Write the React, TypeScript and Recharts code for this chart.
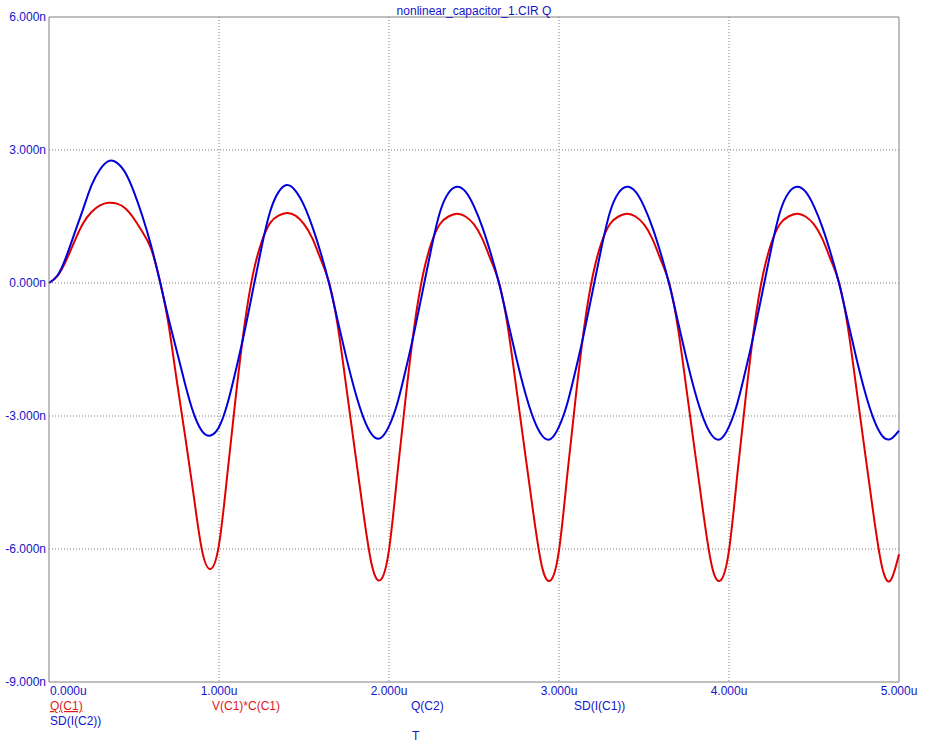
import React from "react";
import {
  LineChart,
  Line,
  XAxis,
  YAxis,
  CartesianGrid,
  ReferenceLine,
} from "recharts";

// Time axis (microseconds)
const timeUs: number[] = [
  0.0, 0.05, 0.1, 0.15, 0.2, 0.25, 0.3, 0.35, 0.4, 0.45, 0.5, 0.55, 0.6, 0.65, 0.7, 0.75, 0.8, 0.85, 0.9, 0.95,
  1.0, 1.05, 1.1, 1.15, 1.2, 1.25, 1.3, 1.35, 1.4, 1.45, 1.5, 1.55, 1.6, 1.65, 1.7, 1.75, 1.8, 1.85, 1.9, 1.95,
  2.0, 2.05, 2.1, 2.15, 2.2, 2.25, 2.3, 2.35, 2.4, 2.45, 2.5, 2.55, 2.6, 2.65, 2.7, 2.75, 2.8, 2.85, 2.9, 2.95,
  3.0, 3.05, 3.1, 3.15, 3.2, 3.25, 3.3, 3.35, 3.4, 3.45, 3.5, 3.55, 3.6, 3.65, 3.7, 3.75, 3.8, 3.85, 3.9, 3.95,
  4.0, 4.05, 4.1, 4.15, 4.2, 4.25, 4.3, 4.35, 4.4, 4.45, 4.5, 4.55, 4.6, 4.65, 4.7, 4.75, 4.8, 4.85, 4.9, 4.95,
  5.0,
];

// Q(C1) / V(C1)*C(C1)  (nC) — red trace
const qC1: number[] = [
  0, 0.16, 0.5, 0.94, 1.34, 1.6, 1.75, 1.81, 1.79, 1.68, 1.45, 1.15, 0.78, 0.08, -0.86, -2.16, -3.43, -4.76, -6.03, -6.45,
  -5.9, -4.28, -2.52, -0.95, 0.2, 0.92, 1.35, 1.52, 1.58, 1.52, 1.33, 1.0, 0.52, -0.02, -1.0, -2.38, -3.8, -5.2, -6.38, -6.7,
  -6.02, -4.28, -2.52, -0.95, 0.19, 0.91, 1.33, 1.5, 1.56, 1.5, 1.32, 0.99, 0.51, -0.03, -1.02, -2.4, -3.82, -5.22, -6.4, -6.71,
  -6.03, -4.28, -2.52, -0.95, 0.19, 0.91, 1.33, 1.5, 1.56, 1.5, 1.32, 0.99, 0.51, -0.03, -1.02, -2.4, -3.82, -5.22, -6.4, -6.71,
  -6.03, -4.28, -2.52, -0.95, 0.19, 0.91, 1.33, 1.5, 1.56, 1.5, 1.32, 0.99, 0.51, -0.03, -1.02, -2.4, -3.82, -5.22, -6.4, -6.71,
  -6.12,
];

// Q(C2) / SD(I(C2))  (nC) — blue trace
const qC2: number[] = [
  0, 0.17, 0.58, 1.12, 1.66, 2.2, 2.56, 2.75, 2.71, 2.48, 2.05, 1.5, 0.85, 0.08, -0.75, -1.51, -2.27, -2.93, -3.34, -3.44,
  -3.25, -2.72, -1.95, -1.1, -0.15, 0.8, 1.6, 2.05, 2.21, 2.08, 1.75, 1.26, 0.66, -0.05, -0.88, -1.7, -2.44, -3.04, -3.42, -3.5,
  -3.23, -2.7, -1.93, -1.08, -0.14, 0.8, 1.6, 2.03, 2.17, 2.06, 1.73, 1.25, 0.65, -0.05, -0.88, -1.71, -2.46, -3.06, -3.44, -3.52,
  -3.24, -2.7, -1.93, -1.08, -0.14, 0.8, 1.6, 2.03, 2.17, 2.06, 1.73, 1.25, 0.65, -0.05, -0.88, -1.71, -2.46, -3.06, -3.44, -3.52,
  -3.24, -2.7, -1.93, -1.08, -0.14, 0.8, 1.6, 2.03, 2.17, 2.06, 1.73, 1.25, 0.65, -0.05, -0.88, -1.71, -2.46, -3.06, -3.44, -3.52,
  -3.33,
];

const xTicks: number[] = [0, 1, 2, 3, 4, 5];
const yTicks: number[] = [-9, -6, -3, 0, 3, 6];
const xGridValues: number[] = [1, 2, 3, 4];
const yGridValues: number[] = [-6, -3, 0, 3];
const X_MAX = 5;
const Y_MAX = 6;

const titleText = "nonlinear_capacitor_1.CIR Q";
const xAxisName = "T";

const BLUE_TEXT = "#1414C8";
const RED_TEXT = "#E01818";
const RED_LINE = "#E00000";
const BLUE_LINE = "#0000DC";
const GRAY = "#808080";
const FONT = "'Liberation Sans', Arial, sans-serif";

const data = timeUs.map((t, i) => ({ t, red: qC1[i], blue: qC2[i] }));

const XTick = (props: any) => {
  const { x, y, payload } = props;
  const anchor = payload.value === 0 ? "start" : "middle";
  return (
    <text
      x={payload.value === 0 ? x + 1 : x}
      y={y}
      dy="0.71em"
      textAnchor={anchor}
      fill={BLUE_TEXT}
      fontSize={12}
      fontFamily={FONT}
    >
      {payload.value.toFixed(3) + "u"}
    </text>
  );
};

const YTick = (props: any) => {
  const { x, y, payload } = props;
  return (
    <text
      x={x}
      y={y}
      dy="0.355em"
      textAnchor="end"
      fill={BLUE_TEXT}
      fontSize={12}
      fontFamily={FONT}
    >
      {payload.value.toFixed(3) + "n"}
    </text>
  );
};

export default function App() {
  return (
    <div style={{ position: "absolute", left: 0, top: 0, width: 930, height: 748, background: "#fff" }}>
      <LineChart
        width={930}
        height={748}
        data={data}
        margin={{ top: 17, right: 31, bottom: 0, left: 0 }}
      >
        <CartesianGrid
          stroke={GRAY}
          strokeDasharray="1 2"
          horizontalValues={yGridValues}
          verticalValues={xGridValues}
        />
        <XAxis
          dataKey="t"
          type="number"
          domain={[0, 5]}
          ticks={xTicks}
          height={66}
          axisLine={{ stroke: GRAY, strokeWidth: 1 }}
          tickLine={false}
          tickSize={0}
          tickMargin={4}
          tick={<XTick />}
          interval={0}
        />
        <YAxis
          type="number"
          domain={[-9, 6]}
          ticks={yTicks}
          width={49}
          axisLine={{ stroke: GRAY, strokeWidth: 1 }}
          tickLine={false}
          tickSize={0}
          tickMargin={3}
          tick={<YTick />}
          interval={0}
        />
        <ReferenceLine y={Y_MAX} stroke={GRAY} strokeWidth={1} ifOverflow="visible" />
        <ReferenceLine x={X_MAX} stroke={GRAY} strokeWidth={1} ifOverflow="visible" />
        <Line
          type="natural"
          dataKey="red"
          stroke={RED_LINE}
          strokeWidth={2}
          dot={false}
          isAnimationActive={false}
        />
        <Line
          type="natural"
          dataKey="blue"
          stroke={BLUE_LINE}
          strokeWidth={2}
          dot={false}
          isAnimationActive={false}
        />
      </LineChart>
      <svg
        width={930}
        height={748}
        style={{ position: "absolute", left: 0, top: 0, pointerEvents: "none" }}
      >
        <g fontFamily={FONT} fontSize={12}>
          <text x={474} y={14.5} textAnchor="middle" fill={BLUE_TEXT}>
            {titleText}
          </text>
          <text x={50} y={710} fill={RED_TEXT} textDecoration="underline">
            Q(C1)
          </text>
          <text x={212} y={710} fill={RED_TEXT}>
            V(C1)*C(C1)
          </text>
          <text x={411} y={710} fill={BLUE_TEXT}>
            Q(C2)
          </text>
          <text x={574} y={710} fill={BLUE_TEXT}>
            SD(I(C1))
          </text>
          <text x={50} y={725} fill={BLUE_TEXT}>
            SD(I(C2))
          </text>
          <text x={412} y={740} fill={BLUE_TEXT}>
            {xAxisName}
          </text>
        </g>
      </svg>
    </div>
  );
}
